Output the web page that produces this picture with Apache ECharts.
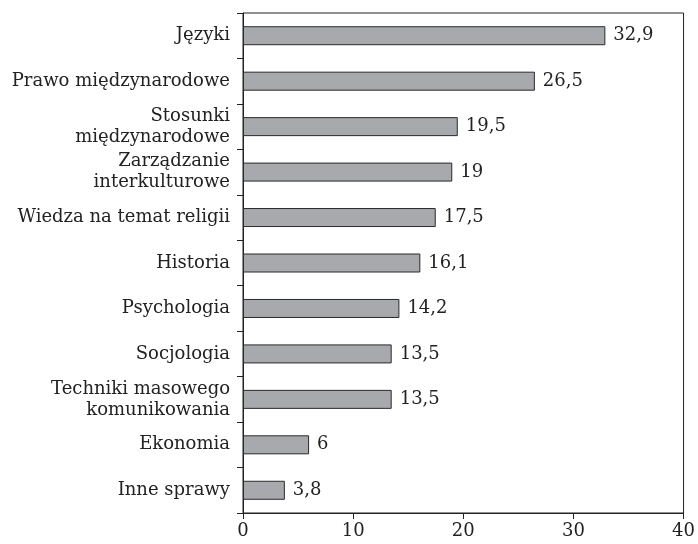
<!DOCTYPE html>
<html>
<head>
<meta charset="utf-8">
<script src="https://cdn.jsdelivr.net/npm/echarts@6/dist/echarts.min.js"></script>
<style>
  html, body { margin: 0; padding: 0; background: #fff; }
  #chart { width: 698px; height: 544px; }
</style>
</head>
<body>
<div id="chart"></div>
<script>
  // dane z wykresu (kolejnosc od gory)
  var categories = [
    'Języki',
    'Prawo międzynarodowe',
    'Stosunki\nmiędzynarodowe',
    'Zarządzanie\ninterkulturowe',
    'Wiedza na temat religii',
    'Historia',
    'Psychologia',
    'Socjologia',
    'Techniki masowego\nkomunikowania',
    'Ekonomia',
    'Inne sprawy'
  ];
  var values = [32.9, 26.5, 19.5, 19, 17.5, 16.1, 14.2, 13.5, 13.5, 6, 3.8];
  var xTicks = [0, 10, 20, 30, 40];

  var font = 'DejaVu Serif';
  var textColor = '#222';
  var lineColor = '#222';

  var chart = echarts.init(document.getElementById('chart'));
  var option = {
    animation: false,
    grid: {
      left: 243, right: 14, top: 13, bottom: 31,
      show: true, borderColor: lineColor, borderWidth: 1
    },
    xAxis: {
      type: 'value',
      min: xTicks[0],
      max: xTicks[xTicks.length - 1],
      interval: 10,
      splitLine: { show: false },
      axisLine: { show: true, lineStyle: { color: lineColor } },
      axisTick: { show: true, length: 6, lineStyle: { color: lineColor } },
      axisLabel: { color: textColor, fontFamily: font, fontSize: 18, margin: 9 }
    },
    yAxis: {
      type: 'category',
      inverse: true,
      data: categories,
      axisLine: { show: true, lineStyle: { color: lineColor } },
      axisTick: { show: true, length: 6, lineStyle: { color: lineColor } },
      axisLabel: {
        color: textColor, fontFamily: font, fontSize: 18,
        lineHeight: 21, margin: 13, align: 'right'
      }
    },
    series: [{
      type: 'bar',
      data: values,
      barWidth: 19,
      itemStyle: { color: '#a8a9ac', borderColor: '#2a2a2a', borderWidth: 1 },
      label: {
        show: true,
        position: 'right',
        distance: 8,
        color: textColor,
        fontFamily: font,
        fontSize: 18,
        formatter: function (p) { return String(p.value).replace('.', ','); }
      }
    }]
  };
  chart.setOption(option);
</script>
</body>
</html>
